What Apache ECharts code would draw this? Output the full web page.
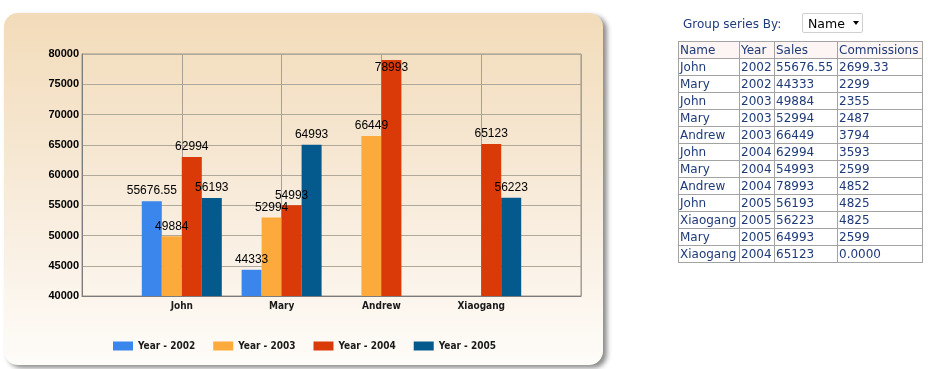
<!DOCTYPE html>
<html>
<head>
<meta charset="utf-8">
<script src="https://cdn.jsdelivr.net/npm/echarts@6/dist/echarts.min.js"></script>
<style>
  html, body { margin: 0; padding: 0; background: #ffffff; }
  #wrap { position: relative; width: 946px; height: 369px; overflow: hidden; }
  #chart { position: absolute; left: 0; top: 0; width: 946px; height: 369px; }
  #side { position: absolute; left: 0; top: 0; width: 946px; height: 369px; pointer-events: none;
          font-family: "DejaVu Sans", Verdana, sans-serif; color: #1f3a78; }
  #grp { position: absolute; left: 683px; top: 16px; font-size: 12px; line-height: 16px; }
  #sel { position: absolute; left: 802px; top: 13px; width: 61px; height: 20px; border: 1px solid #cfcfcf;
         border-radius: 2px; background: #fff; color: #000; font-size: 12.5px; line-height: 19px; box-sizing: border-box; }
  #sel span.t { position: absolute; left: 5px; top: 0px; }
  #sel span.a { position: absolute; left: 50px; top: 7px; width: 0; height: 0;
                border-left: 3.5px solid transparent; border-right: 3.5px solid transparent; border-top: 4px solid #000; }
  #tbl { position: absolute; left: 678px; top: 41px; border-collapse: collapse; font-size: 12px; }
  #tbl td { border: 1px solid #a3a3a3; height: 16px; line-height: 16px; padding: 0 0 0 1px; white-space: nowrap;
            color: #1f3a78; box-sizing: border-box; }
  #tbl tr.h td { background: #fcf5f3; }
</style>
</head>
<body>
<div id="wrap">
  <div id="chart"></div>
  <div id="side">
    <div id="grp">Group series By:</div>
    <div id="sel"><span class="t">Name</span><span class="a"></span></div>
    <table id="tbl"></table>
  </div>
</div>
<script>
// ---- chart data ----
var categories = ['John', 'Mary', 'Andrew', 'Xiaogang'];
var seriesNames = ['Year - 2002', 'Year - 2003', 'Year - 2004', 'Year - 2005'];
var sales2002 = [55676.55, 44333, null, null];
var sales2003 = [49884, 52994, 66449, null];
var sales2004 = [62994, 54993, 78993, 65123];
var sales2005 = [56193, 64993, null, 56223];
var yTicks = [40000, 45000, 50000, 55000, 60000, 65000, 70000, 75000, 80000];

// ---- table data ----
var tableHeader = ['Name', 'Year', 'Sales', 'Commissions'];
var tableNames = ['John', 'Mary', 'John', 'Mary', 'Andrew', 'John', 'Mary', 'Andrew', 'John', 'Xiaogang', 'Mary', 'Xiaogang'];
var tableYears = ['2002', '2002', '2003', '2003', '2003', '2004', '2004', '2004', '2005', '2005', '2005', '2004'];
var tableSales = ['55676.55', '44333', '49884', '52994', '66449', '62994', '54993', '78993', '56193', '56223', '64993', '65123'];
var tableComm = ['2699.33', '2299', '2355', '2487', '3794', '3593', '2599', '4852', '4825', '4825', '2599', '0.0000'];

// build table
(function () {
  var colW = [61, 35, 63, 85];
  var html = '<tr class="h">';
  for (var c = 0; c < tableHeader.length; c++) html += '<td style="width:' + colW[c] + 'px">' + tableHeader[c] + '</td>';
  html += '</tr>';
  for (var i = 0; i < tableNames.length; i++) {
    html += '<tr><td>' + tableNames[i] + '</td><td>' + tableYears[i] + '</td><td>' + tableSales[i] + '</td><td>' + tableComm[i] + '</td></tr>';
  }
  document.getElementById('tbl').innerHTML = html;
})();

var colors = ['#3b86ec', '#fcaa3c', '#d93a08', '#045a8c'];
var yMin = yTicks[0], yMax = yTicks[yTicks.length - 1], yStep = yTicks[1] - yTicks[0];
var xCats = [''].concat(categories).concat(['']);
var allSeries = [sales2002, sales2003, sales2004, sales2005];
var catFont = '"DejaVu Sans Condensed", "DejaVu Sans", sans-serif';

function pad(arr) {
  var out = [null];
  for (var i = 0; i < arr.length; i++) {
    var v = arr[i];
    if (v !== null && v > yMax - 2500) {
      out.push({ value: v, label: { position: 'insideTop', distance: 2 } });
    } else {
      out.push(v);
    }
  }
  out.push(null);
  return out;
}

var chart = echarts.init(document.getElementById('chart'), null, { renderer: 'canvas' });
var series = allSeries.map(function (arr, i) {
  return {
    name: seriesNames[i],
    type: 'bar',
    data: pad(arr),
    barWidth: 20,
    barGap: '0%',
    itemStyle: { color: colors[i] },
    label: {
      show: true,
      position: 'top',
      distance: 4,
      color: '#000',
      fontFamily: 'Liberation Sans, Arial, sans-serif',
      fontSize: 12
    },
    animation: false
  };
});

chart.setOption({
  animation: false,
  graphic: [{
    type: 'rect',
    z: -10,
    silent: true,
    shape: { x: 4, y: 13, width: 599, height: 352, r: 14 },
    style: {
      fill: new echarts.graphic.LinearGradient(0, 0, 0, 1, [
        { offset: 0, color: '#f2dbb9' },
        { offset: 0.55, color: '#f8ecdc' },
        { offset: 1, color: '#fefcf9' }
      ]),
      shadowBlur: 5,
      shadowOffsetX: 4,
      shadowOffsetY: 3,
      shadowColor: 'rgba(0,0,0,0.45)'
    }
  }],
  legend: {
    left: 108,
    top: 336,
    itemWidth: 20,
    itemHeight: 9,
    itemGap: 18,
    icon: 'rect',
    textStyle: { fontFamily: catFont, fontWeight: 'bold', fontSize: 10, color: '#1a1a1a', padding: [0, 0, 0, 0] },
    data: seriesNames
  },
  grid: {
    left: 82, right: 365, top: 54, bottom: 73,
    show: true, borderColor: '#9a9488', borderWidth: 1, backgroundColor: 'transparent'
  },
  xAxis: {
    type: 'category',
    data: xCats,
    boundaryGap: false,
    axisTick: { show: false },
    axisLine: { lineStyle: { color: '#7c7c7c', width: 1 } },
    axisLabel: { margin: 5, color: '#1a1a1a', fontFamily: catFont, fontWeight: 'bold', fontSize: 10, interval: 0 },
    splitLine: { show: true, lineStyle: { color: '#a8a092', width: 1 } }
  },
  yAxis: {
    type: 'value',
    min: yMin, max: yMax, interval: yStep,
    axisLine: { show: true, lineStyle: { color: '#7c7c7c', width: 1 } },
    axisTick: { show: false },
    axisLabel: { margin: 3, color: '#000', fontFamily: 'Liberation Sans, Arial, sans-serif', fontWeight: 'bold', fontSize: 11,
                 formatter: function (v) { return String(v); } },
    splitLine: { show: true, lineStyle: { color: '#b0a898', width: 1 } }
  },
  series: series
});
</script>
</body>
</html>
